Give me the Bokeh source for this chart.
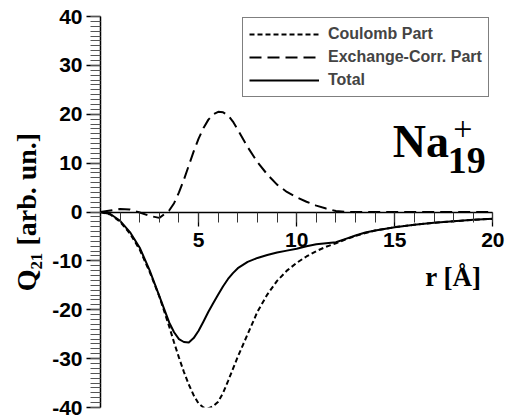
from bokeh.plotting import figure
from bokeh.models import Range1d, FixedTicker, Label, Legend, LegendItem, PrintfTickFormatter, Title
from bokeh.embed import file_html
from bokeh.resources import INLINE

# Radial distance r (Angstrom)
r = [0.0, 0.5, 1.0, 1.5, 2.0, 2.5, 3.0, 3.5,
     3.75, 4.0, 4.25, 4.5, 4.75, 5.0, 5.25, 5.5, 5.75, 6.0, 6.25, 6.5, 6.75, 7.0,
     7.5, 8.0, 8.5, 9.0, 9.5, 10.0, 10.5, 11.0, 11.5, 12.0, 12.5, 13.0, 13.5, 14.0,
     15.0, 16.0, 17.0, 18.0, 19.0, 20.0]

# Coulomb part of Q21
coulomb = [0.0, -0.5, -2.0, -4.4, -7.7, -12.2, -17.3, -23.4,
           -26.7, -29.8, -32.7, -35.3, -37.5, -39.2, -40.0, -40.2, -39.7, -38.8,
           -37.0, -34.6, -32.1, -29.6,
           -25.0, -20.4, -16.9, -14.1, -12.0, -10.4, -9.1, -8.0, -7.1, -6.4, -5.6,
           -4.9, -4.3, -3.8,
           -3.1, -2.6, -2.2, -1.9, -1.6, -1.4]

# Exchange-correlation part of Q21
exchange = [0.0, 0.3, 0.6, 0.5, -0.1, -0.8, -1.2, 0.3,
            1.8, 4.0, 6.6, 9.5, 12.4, 15.0, 17.2, 18.9, 20.0, 20.5, 20.4, 19.8,
            18.5, 16.8,
            13.3, 10.2, 7.7, 5.6, 4.1, 3.0, 2.1, 1.3, 0.7, 0.2, 0.0, 0.0, 0.0, 0.0,
            0.0, 0.0, 0.0, 0.0, 0.0, 0.0]

# Total Q21
total = [0.0, -0.4, -1.8, -4.1, -7.3, -11.9, -17.2, -22.6,
         -24.6, -26.0, -26.6, -26.7, -25.8, -24.3, -22.4, -20.4, -18.6, -16.9,
         -15.2, -13.7, -12.5, -11.5,
         -10.2, -9.4, -8.8, -8.3, -7.9, -7.5, -7.0, -6.6, -6.4, -6.2, -5.5, -4.8,
         -4.2, -3.8,
         -3.1, -2.6, -2.2, -1.9, -1.6, -1.4]

x_ticks = [5, 10, 15, 20]
x_minor = list(range(0, 21))
y_ticks = [-40, -30, -20, -10, 0, 10, 20, 30, 40]
y_minor = list(range(-40, 41))

p = figure(width=512, height=417, output_backend="svg", toolbar_location=None,
           x_range=Range1d(0, 21.0), y_range=Range1d(-40, 40),
           min_border_left=100, min_border_right=0, min_border_top=16,
           min_border_bottom=10)
p.outline_line_color = None
p.grid.visible = False
p.background_fill_color = "white"
p.border_fill_color = "white"

sans = "Liberation Sans"
serif = "Liberation Serif"

# x axis crossing at y = 0, drawn only over 0..20
xa = p.xaxis[0]
xa.ticker = FixedTicker(ticks=x_ticks, minor_ticks=x_minor)
xa.formatter = PrintfTickFormatter(format="%d")
xa.fixed_location = 0
xa.bounds = (0, 20)
xa.axis_line_width = 1.5
xa.axis_line_color = "black"
xa.major_tick_in = 0
xa.major_tick_out = 14
xa.minor_tick_in = 0
xa.minor_tick_out = 10
xa.major_tick_line_width = 1.3
xa.minor_tick_line_width = 1.0
xa.major_tick_line_color = "black"
xa.minor_tick_line_color = "#333333"
xa.major_label_text_font = sans
xa.major_label_text_font_style = "bold"
xa.major_label_text_font_size = "21px"
xa.major_label_text_color = "black"
xa.major_label_standoff = 7

ya = p.yaxis[0]
ya.ticker = FixedTicker(ticks=y_ticks, minor_ticks=y_minor)
ya.formatter = PrintfTickFormatter(format="%d")
ya.axis_line_width = 1.5
ya.axis_line_color = "black"
ya.major_tick_in = 0
ya.major_tick_out = 14
ya.minor_tick_in = 0
ya.minor_tick_out = 10
ya.major_tick_line_width = 1.3
ya.minor_tick_line_width = 1.0
ya.major_tick_line_color = "black"
ya.minor_tick_line_color = "#555555"
ya.major_label_text_font = sans
ya.major_label_text_font_style = "bold"
ya.major_label_text_font_size = "21px"
ya.major_label_text_color = "black"
ya.major_label_standoff = 4

# vertical quantity label, left of the y axis
ylab = Title(text="Q\u2082\u2081 [arb. un.]", align="center", offset=-26,
             text_font=serif, text_font_style="bold", text_font_size="28px",
             text_color="black", standoff=15)
p.add_layout(ylab, "left")

rc = p.line(r, coulomb, line_color="black", line_width=2, line_dash="5 3")
rx = p.line(r, exchange, line_color="black", line_width=2, line_dash="12 6")
rt = p.line(r, total, line_color="black", line_width=2, line_join="round")

legend = Legend(items=[LegendItem(label="Coulomb Part", renderers=[rc]),
                       LegendItem(label="Exchange-Corr. Part", renderers=[rx]),
                       LegendItem(label="Total", renderers=[rt])],
                location=(142, 310))
legend.margin = 0
legend.padding = 6
legend.spacing = 3
legend.glyph_width = 70
legend.glyph_height = 20
legend.label_height = 20
legend.label_standoff = 9
legend.label_text_font = sans
legend.label_text_font_style = "bold"
legend.label_text_font_size = "16px"
legend.border_line_color = "black"
legend.border_line_width = 1
legend.background_fill_color = "white"
legend.background_fill_alpha = 1.0
p.add_layout(legend)

p.add_layout(Label(x=16.55, y=-13.3, text="r [\u00c5]", text_align="left",
                   text_baseline="middle", text_font=serif,
                   text_font_style="bold", text_font_size="27px", text_color="black"))
p.add_layout(Label(x=14.9, y=14.5, text="Na", text_align="left",
                   text_baseline="middle", text_font=serif,
                   text_font_style="bold", text_font_size="46px", text_color="black"))
p.add_layout(Label(x=17.7, y=10.6, text="19", text_align="left",
                   text_baseline="middle", text_font=serif,
                   text_font_style="bold", text_font_size="38px", text_color="black"))
p.add_layout(Label(x=18.47, y=17.0, text="+", text_align="center",
                   text_baseline="middle", text_font=serif,
                   text_font_size="34px", text_color="black"))

open("out.html", "w").write(file_html(p, INLINE))
